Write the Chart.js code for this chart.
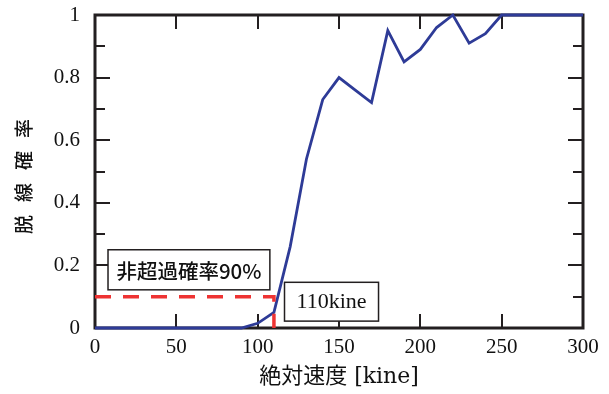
<!DOCTYPE html>
<html>
<head>
<meta charset="utf-8">
<script src="https://cdn.jsdelivr.net/npm/chart.js@4/dist/chart.umd.min.js"></script>
<style>
  html, body { margin: 0; padding: 0; background: #ffffff; }
  canvas { display: block; }
</style>
</head>
<body>
<canvas id="chart" width="609" height="394"></canvas>
<script>
// Absolute velocity [kine] and derailment probability at each velocity
const speeds = [0, 10, 20, 30, 40, 50, 60, 70, 80, 90,
                100, 110, 120, 130, 140, 150, 160, 170, 180, 190,
                200, 210, 220, 230, 240, 250, 260, 270, 280, 290, 300];
const derailProb = [0, 0, 0, 0, 0, 0, 0, 0, 0, 0,
                    0.015, 0.05, 0.26, 0.54, 0.73, 0.80, 0.76, 0.72, 0.95, 0.85,
                    0.89, 0.96, 1.00, 0.91, 0.94, 1, 1, 1, 1, 1, 1];

// 90% non-exceedance reference: probability 0.1 reached at 110 kine
const thresholdProb = 0.1;
const thresholdSpeed = 110;

const xTicks = [0, 50, 100, 150, 200, 250, 300];
const yTicks = [0, 0.2, 0.4, 0.6, 0.8, 1];

const xTitle = '絶対速度 [kine]';
const yTitle = '脱線確率';
const thresholdLabel = '非超過確率90%';
const speedLabel = thresholdSpeed + 'kine';

const INK = '#231f20';
const BLUE = '#2e3b97';
const RED = '#ee3333';
const SERIF = '"Liberation Serif", "Times New Roman", serif';
const WIDE_SERIF = '"DejaVu Serif", serif';
const GOTHIC = '"Noto Sans CJK JP", "Noto Sans", sans-serif';

// Frame, inward tick marks, rotated y-title
const framePlugin = {
  id: 'frame',
  beforeDatasetsDraw(chart) {
    const { ctx, chartArea: a, scales: { x, y } } = chart;
    ctx.save();
    ctx.strokeStyle = INK;
    ctx.lineWidth = 2;
    ctx.lineCap = 'butt';
    // x ticks on bottom and top edges
    for (let v = 50; v < 300; v += 50) {
      const px = Math.round(x.getPixelForValue(v));
      ctx.beginPath();
      ctx.moveTo(px, a.bottom); ctx.lineTo(px, a.bottom - 14);
      ctx.moveTo(px, a.top); ctx.lineTo(px, a.top + 14);
      ctx.stroke();
    }
    // y ticks on left and right edges, majors every 0.2, minors every 0.1
    for (let i = 1; i < 10; i++) {
      const py = Math.round(y.getPixelForValue(i / 10));
      const len = i % 2 === 0 ? 15 : 10;
      ctx.beginPath();
      ctx.moveTo(a.left, py); ctx.lineTo(a.left + len, py);
      ctx.moveTo(a.right, py); ctx.lineTo(a.right - len, py);
      ctx.stroke();
    }
    ctx.lineWidth = 3;
    ctx.strokeRect(a.left, a.top, a.right - a.left, a.bottom - a.top);

    // rotated y-axis title with spaced characters
    const cx = 24;
    const cy = (a.top + a.bottom) / 2 + 5;
    const pitch = 32;
    ctx.fillStyle = '#111';
    ctx.font = '500 19px ' + GOTHIC;
    ctx.textAlign = 'center';
    ctx.textBaseline = 'middle';
    const chars = Array.from(yTitle);
    chars.forEach((ch, i) => {
      const off = ((chars.length - 1) / 2 - i) * pitch;
      ctx.save();
      ctx.translate(cx, cy + off);
      ctx.rotate(-Math.PI / 2);
      ctx.fillText(ch, 0, 0);
      ctx.restore();
    });
    ctx.restore();
  },
  afterDatasetsDraw(chart) {
    const { ctx, scales: { x, y } } = chart;
    const box = (x0, x1, y0, y1, text, font) => {
      const l = x.getPixelForValue(x0), r = x.getPixelForValue(x1);
      const t = y.getPixelForValue(y0), b = y.getPixelForValue(y1);
      ctx.save();
      ctx.fillStyle = '#ffffff';
      ctx.fillRect(l, t, r - l, b - t);
      ctx.strokeStyle = INK;
      ctx.lineWidth = 1.5;
      ctx.strokeRect(l, t, r - l, b - t);
      ctx.fillStyle = '#111';
      ctx.font = font;
      ctx.textAlign = 'center';
      ctx.textBaseline = 'middle';
      ctx.fillText(text, (l + r) / 2, (t + b) / 2 + 1);
      ctx.restore();
    };
    box(8, 107.5, 0.25, 0.122, thresholdLabel, '500 20.5px ' + GOTHIC);
    box(116.5, 174.3, 0.146, 0.022, speedLabel, '22px ' + SERIF);
  }
};

new Chart(document.getElementById('chart'), {
  type: 'line',
  data: {
    datasets: [
      {
        data: [
          { x: 0, y: thresholdProb },
          { x: thresholdSpeed, y: thresholdProb },
          { x: thresholdSpeed, y: 0 }
        ],
        borderColor: RED,
        borderWidth: 3.5,
        borderDash: [16, 12],
        pointRadius: 0,
        tension: 0,
        clip: false,
        order: 0
      },
      {
        data: speeds.map((s, i) => ({ x: s, y: derailProb[i] })),
        borderColor: BLUE,
        borderWidth: 2.8,
        pointRadius: 0,
        tension: 0,
        borderJoinStyle: 'miter',
        clip: false,
        order: 1
      }
    ]
  },
  options: {
    responsive: false,
    animation: false,
    devicePixelRatio: 1,
    layout: { padding: { top: 15, right: 26, left: 0, bottom: 0 } },
    plugins: { legend: { display: false }, tooltip: { enabled: false } },
    scales: {
      x: {
        type: 'linear',
        min: 0, max: 300,
        afterBuildTicks(s) { s.ticks = xTicks.map(v => ({ value: v })); },
        afterFit(s) { s.height = 66; s.paddingLeft = 0; s.paddingRight = 0; },
        ticks: { color: '#111', font: { family: SERIF, size: 21 }, padding: 7, maxRotation: 0 },
        grid: { display: false, drawTicks: false },
        border: { display: false },
        title: {
          display: true, text: xTitle, color: '#111',
          font: { family: WIDE_SERIF + ', ' + GOTHIC, size: 22, lineHeight: 1 },
          padding: { top: 0, bottom: 6 }
        }
      },
      y: {
        min: 0, max: 1,
        afterBuildTicks(s) { s.ticks = yTicks.map(v => ({ value: v })); },
        afterFit(s) { s.width = 95; s.paddingTop = 0; s.paddingBottom = 0; },
        ticks: {
          color: '#111', font: { family: SERIF, size: 21 }, padding: 15,
          callback: v => String(v)
        },
        grid: { display: false, drawTicks: false },
        border: { display: false }
      }
    }
  },
  plugins: [framePlugin]
});
</script>
</body>
</html>
